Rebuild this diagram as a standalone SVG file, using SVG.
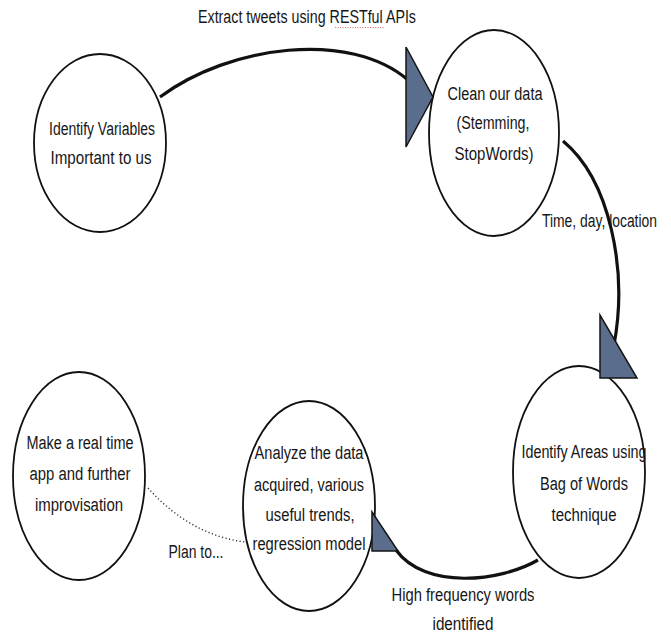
<svg xmlns="http://www.w3.org/2000/svg" width="671" height="636" viewBox="0 0 671 636">
<style>
.node{fill:#fff;stroke:#111;stroke-width:1.8}
.t{font-family:"Liberation Sans",Arial,sans-serif;font-size:18px;fill:#161616;text-anchor:middle}
.conn{fill:none;stroke:#111;stroke-width:3.2}
.dot{fill:none;stroke:#333;stroke-width:1.4;stroke-dasharray:1.2 2.4}
.head{fill:#5a6d8d;stroke:#141414;stroke-width:1.5;stroke-linejoin:miter}
</style>
<rect width="671" height="636" fill="#fff"/>
<g id="node-identify-variables">
<ellipse class="node" cx="100" cy="143" rx="66" ry="89"/>
<text class="t" x="102" y="135" textLength="106" lengthAdjust="spacingAndGlyphs">Identify Variables</text>
<text class="t" x="101" y="164" textLength="101" lengthAdjust="spacingAndGlyphs">Important to us</text>
</g>
<g id="node-clean-data">
<ellipse class="node" cx="494" cy="133" rx="65" ry="103"/>
<text class="t" x="495" y="100" textLength="95" lengthAdjust="spacingAndGlyphs">Clean our data</text>
<text class="t" x="493" y="129" textLength="73" lengthAdjust="spacingAndGlyphs">(Stemming,</text>
<text class="t" x="494" y="160" textLength="79" lengthAdjust="spacingAndGlyphs">StopWords)</text>
</g>
<g id="node-identify-areas">
<ellipse class="node" cx="579" cy="472" rx="66" ry="106"/>
<text class="t" x="584" y="458" textLength="125" lengthAdjust="spacingAndGlyphs">Identify Areas using</text>
<text class="t" x="584" y="490" textLength="88" lengthAdjust="spacingAndGlyphs">Bag of Words</text>
<text class="t" x="584" y="521" textLength="65" lengthAdjust="spacingAndGlyphs">technique</text>
</g>
<g id="node-analyze">
<ellipse class="node" cx="309" cy="506" rx="66" ry="105"/>
<text class="t" x="309" y="459" textLength="109" lengthAdjust="spacingAndGlyphs">Analyze the data</text>
<text class="t" x="309" y="491" textLength="110" lengthAdjust="spacingAndGlyphs">acquired, various</text>
<text class="t" x="310" y="521" textLength="89" lengthAdjust="spacingAndGlyphs">useful trends,</text>
<text class="t" x="309" y="550" textLength="113" lengthAdjust="spacingAndGlyphs">regression model</text>
</g>
<g id="node-real-time-app">
<ellipse class="node" cx="79" cy="476" rx="66" ry="104"/>
<text class="t" x="80" y="449" textLength="107" lengthAdjust="spacingAndGlyphs">Make a real time</text>
<text class="t" x="80" y="480" textLength="101" lengthAdjust="spacingAndGlyphs">app and further</text>
<text class="t" x="79" y="511" textLength="88" lengthAdjust="spacingAndGlyphs">improvisation</text>
</g>
<g id="connectors">
<path class="conn" d="M160,97 C230,45 350,30 408,80"/>
<polygon class="head" points="406,47 433,97 406,147"/>
<path class="conn" d="M563,141 C610,180 628,270 614,345" stroke-width="2.6"/>
<polygon class="head" points="600,315 600,378 637,378"/>
<path class="conn" d="M538,560 C500,582 425,590 396,550"/>
<polygon class="head" points="372,512 372,551 398,551"/>
<path class="dot" d="M148,488 Q190,535 245,542"/>
</g>
<g id="labels">
<text class="t" x="307" y="23" textLength="218" lengthAdjust="spacingAndGlyphs">Extract tweets using RESTful APIs</text>
<line x1="335" y1="27.5" x2="384" y2="27.5" stroke="#e06a6a" stroke-width="1.2" stroke-dasharray="1 1.5"/>
<text class="t" x="599.5" y="227" textLength="115" lengthAdjust="spacingAndGlyphs">Time, day, location</text>
<text class="t" x="463" y="601" textLength="143" lengthAdjust="spacingAndGlyphs">High frequency words</text>
<text class="t" x="463" y="630" textLength="61" lengthAdjust="spacingAndGlyphs">identified</text>
<text class="t" x="196" y="558" textLength="55" lengthAdjust="spacingAndGlyphs">Plan to...</text>
</g>
</svg>
